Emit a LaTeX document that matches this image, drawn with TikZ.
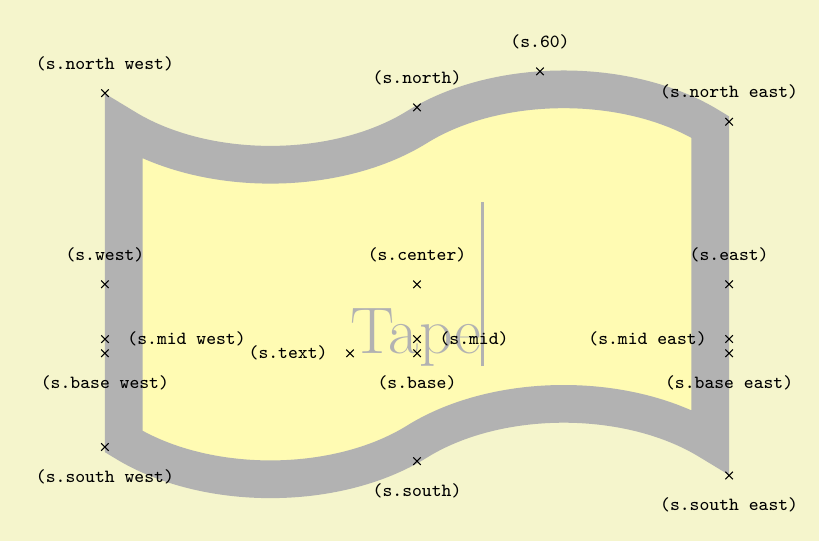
\documentclass[tikz,border=0pt]{standalone}
\usetikzlibrary{shapes.symbols}
\definecolor{graphicbackground}{rgb}{0.96,0.96,0.8}
\tikzset{
  shape example/.style={color=black!30, draw, fill=yellow!30, line width=.5cm},
  anchorlabel/.style={font=\scriptsize\ttfamily, text=black, inner sep=8.3pt},
}
\begin{document}
\begin{tikzpicture}
  \Huge
  \coordinate (c) at (0,0);
  \path[fill=graphicbackground] ([shift={(-5.53cm,-3.40cm)}]c) rectangle ([shift={(5.33cm,3.77cm)}]c);
  \useasboundingbox ([shift={(-5.53cm,-3.40cm)}]c) rectangle ([shift={(5.33cm,3.77cm)}]c);
  \node[name=s, shape=tape, shape example, inner xsep=3cm, inner ysep=0.5cm,
        tape bend height=1cm, anchor=center] at (c) {Tape\vrule width 1pt height 2cm};
  \foreach \anchor/\placement in
    {text/left, center/above, 60/above, mid/right, base/below,
     north/above, south/below, east/above, west/above,
     north west/above, north east/above, south west/below, south east/below,
     mid west/right, mid east/left, base west/below, base east/below}
     \draw[shift=(s.\anchor), black] plot[mark=x] coordinates{(0,0)}
       node[\placement, anchorlabel] {(s.\anchor)};
\end{tikzpicture}
\end{document}
